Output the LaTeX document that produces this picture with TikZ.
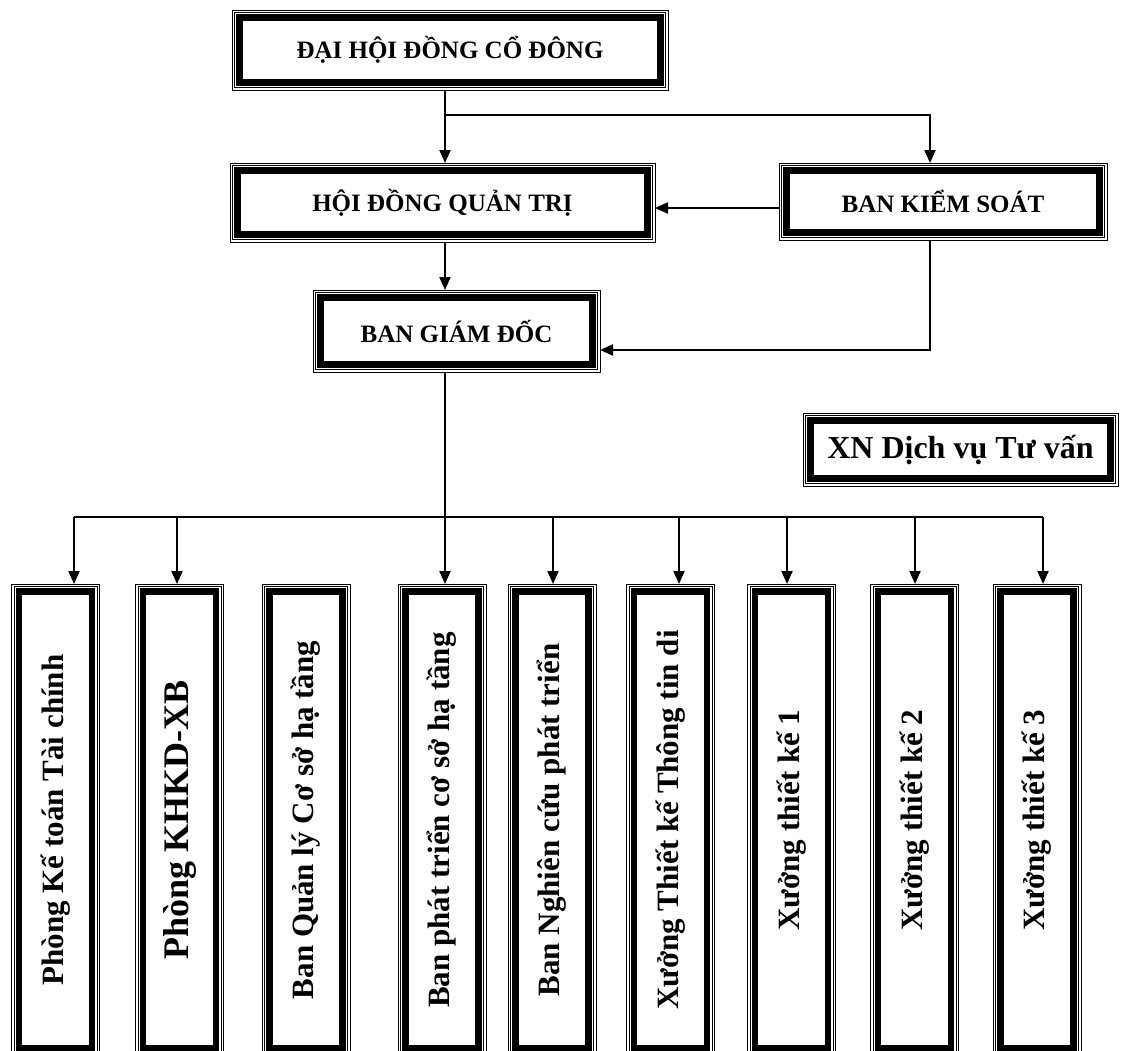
\documentclass[tikz,border=0pt]{standalone}
\usepackage{fontspec}
\setmainfont{Liberation Serif}
\usetikzlibrary{arrows.meta}
\tikzset{
  orgbox/.style={draw, line width=1pt, inner sep=0pt, outer sep=0pt, align=center,
    font=\bfseries\fontsize{25}{30}\selectfont,
    path picture={
      \draw[line width=0.7pt] ([xshift=2.6pt,yshift=-2.6pt]path picture bounding box.north west) rectangle ([xshift=-2.6pt,yshift=2.6pt]path picture bounding box.south east);
      \draw[line width=6.6pt] ([xshift=7.6pt,yshift=-7.6pt]path picture bounding box.north west) rectangle ([xshift=-7.6pt,yshift=7.6pt]path picture bounding box.south east);
    }},
  vbox/.style={orgbox, minimum width=88pt, minimum height=472pt, font=\bfseries\fontsize{31}{36}\selectfont},
  conn/.style={line width=2pt, -{Triangle[length=13pt,width=11pt]}},
  wire/.style={line width=2pt},
}
\begin{document}
\begin{tikzpicture}[x=1pt,y=-1pt]
\useasboundingbox[fill=white] (0,0) rectangle (1122,1050);

% top level boxes
\node[orgbox, minimum width=436pt, minimum height=80pt] (dh) at (450,50) {ĐẠI HỘI ĐỒNG CỔ ĐÔNG};
\node[orgbox, minimum width=425pt, minimum height=79pt] (hdqt) at (442.5,202.5) {HỘI ĐỒNG QUẢN TRỊ};
\node[orgbox, minimum width=328pt, minimum height=77pt] (bks) at (943,201.5) {BAN KIỂM SOÁT};
\node[orgbox, minimum width=287pt, minimum height=82pt] (bgd) at (456.5,331) {BAN GIÁM ĐỐC};
\node[orgbox, minimum width=315pt, minimum height=73pt, font=\bfseries\fontsize{32}{36}\selectfont] (xn) at (960.5,449.5) {XN Dịch vụ Tư vấn};

% bottom boxes
\node[vbox] (b1) at (55.5,820) {\rotatebox{90}{Phòng Kế toán Tài chính}};
\node[vbox, font=\bfseries\fontsize{36}{40}\selectfont] (b2) at (179.5,820) {\rotatebox{90}{Phòng KHKD-XB}};
\node[vbox] (b3) at (306,820) {\rotatebox{90}{Ban Quản lý Cơ sở hạ tầng}};
\node[vbox] (b4) at (442,820) {\rotatebox{90}{Ban phát triển cơ sở hạ tầng}};
\node[vbox] (b5) at (552,820) {\rotatebox{90}{Ban Nghiên cứu phát triển}};
\node[vbox] (b6) at (670.5,820) {\rotatebox{90}{Xưởng Thiết kế Thông tin di}};
\node[vbox] (b7) at (791.5,820) {\rotatebox{90}{Xưởng thiết kế 1}};
\node[vbox] (b8) at (914.5,820) {\rotatebox{90}{Xưởng thiết kế 2}};
\node[vbox] (b9) at (1037,820) {\rotatebox{90}{Xưởng thiết kế 3}};

% helper coordinates
\coordinate (sp) at (445,115);
\coordinate (kx) at (930,0);
\coordinate (yk) at (0,208);
\coordinate (yb) at (0,350);
\coordinate (t1) at (74,517);
\coordinate (t2) at (177,517);
\coordinate (t4) at (445,517);
\coordinate (t5) at (553,517);
\coordinate (t6) at (679,517);
\coordinate (t7) at (787,517);
\coordinate (t8) at (915,517);
\coordinate (t9) at (1043,517);

% connectors
\draw[conn] (dh.south -| sp) -- (hdqt.north -| sp);
\draw[conn] (sp) -| (bks.north -| kx);
\draw[conn] (bks.west |- yk) -- (hdqt.east |- yk);
\draw[conn] (hdqt.south -| sp) -- (bgd.north -| sp);
\draw[conn] (bks.south -| kx) |- (bgd.east |- yb);
\draw[conn] (bgd.south -| sp) -- (b4.north -| t4);
\draw[wire] (t1) -- (t9);
\draw[conn] (t1) -- (b1.north -| t1);
\draw[conn] (t2) -- (b2.north -| t2);
\draw[conn] (t5) -- (b5.north -| t5);
\draw[conn] (t6) -- (b6.north -| t6);
\draw[conn] (t7) -- (b7.north -| t7);
\draw[conn] (t8) -- (b8.north -| t8);
\draw[conn] (t9) -- (b9.north -| t9);
\end{tikzpicture}
\end{document}
